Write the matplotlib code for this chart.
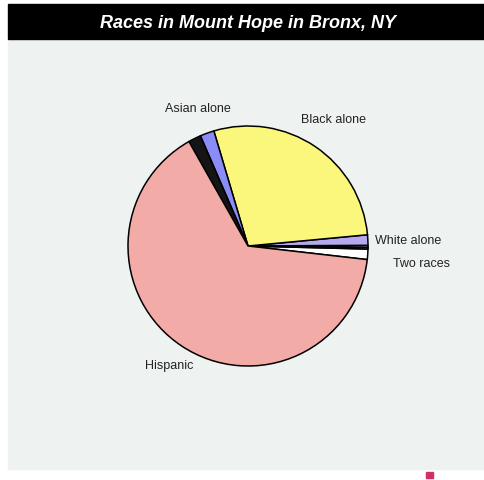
import matplotlib.pyplot as plt
import numpy as np
from matplotlib.patches import Rectangle

plt.rcParams['font.family'] = ['Liberation Sans', 'DejaVu Sans']

# Races in Mount Hope (share of population, %)
races = ['Two races', 'Other 1', 'Other 2', 'White alone', 'Black alone',
         'Asian alone', 'Other race', 'Hispanic']
shares = [1.4, 0.25, 0.25, 1.4, 28.1, 1.9, 1.7, 65.0]
colors = ['#ffffff', '#6a6a9a', '#d8d0f4', '#b6a8ee', '#fbf77c',
          '#8a8cf8', '#151515', '#f3aba8']
shown = ['Hispanic', 'Black alone', 'Asian alone', 'White alone', 'Two races']
# label distance (in radii), angle nudge (deg) and horizontal alignment per label
label_pos = {'Asian alone': (1.22, 0, 'center'), 'Black alone': (1.28, 0, 'center'),
             'White alone': (1.06, 0, 'left'), 'Two races': (1.22, -2.5, 'left'),
             'Hispanic': (1.19, 0, 'center')}

fig = plt.figure(figsize=(4.85, 4.81), dpi=100)
fig.patch.set_facecolor('white')

# light panel and black title bar
fig.patches.append(Rectangle((8 / 485, 11 / 481), 477 / 485, 430 / 481,
                             transform=fig.transFigure, color='#eef2f0', zorder=-2))
fig.patches.append(Rectangle((8 / 485, 441 / 481), 477 / 485, 35 / 481,
                             transform=fig.transFigure, color='black', zorder=-2))
fig.text(248 / 485, 458 / 481, 'Races in Mount Hope in Bronx, NY', color='white',
         fontsize=13, fontweight='bold', fontstyle='italic', ha='center', va='center')

ax = fig.add_axes([128 / 485, 114 / 481, 240 / 485, 240 / 481])
ax.set_zorder(2)
wedges, _ = ax.pie(shares, colors=colors, startangle=-6.5, counterclock=True,
                   wedgeprops=dict(edgecolor='black', linewidth=1.1))
ax.set_xlim(-1, 1)
ax.set_ylim(-1, 1)
ax.axis('off')

for w, name in zip(wedges, races):
    if name not in shown:
        continue
    r, nudge, ha = label_pos[name]
    ang = np.deg2rad((w.theta1 + w.theta2) / 2 + nudge)
    ax.text(r * np.cos(ang), r * np.sin(ang), name, ha=ha, va='center',
            fontsize=9, color='#222222', clip_on=False)

# tiny legend swatch at bottom right
fig.patches.append(Rectangle((426 / 485, 2 / 481), 7 / 485, 6 / 481,
                             transform=fig.transFigure, color='#d0306a', zorder=1))

fig.savefig('out.png', dpi=100, facecolor=fig.get_facecolor())
